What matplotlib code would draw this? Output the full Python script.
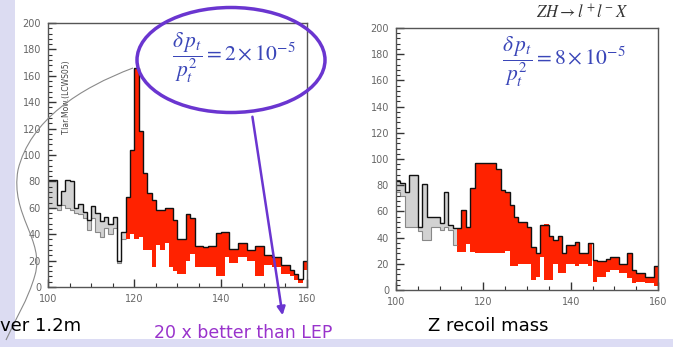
import numpy as np
import matplotlib.pyplot as plt
from matplotlib.patches import Ellipse, Rectangle, PathPatch
from matplotlib.path import Path

# bin edges (GeV), 1 GeV bins from 100 to 160
edges = np.arange(100, 161, 1)

# left panel: upper (total) and lower level of each bin
left_upper = [81, 81, 62, 73, 81, 80, 60, 63, 57, 51,
              61, 56, 50, 53, 48, 53, 20, 42, 68, 104,
              166, 118, 86, 71, 66, 58, 58, 60, 60, 51,
              36, 36, 55, 52, 31, 31, 30, 31, 31, 41,
              42, 42, 29, 29, 33, 33, 28, 28, 31, 31,
              24, 24, 23, 23, 17, 17, 13, 10, 6, 20]
left_lower = [60, 60, 58, 62, 60, 58, 56, 55, 52, 43,
              52, 42, 38, 45, 40, 45, 18, 36, 36, 40,
              36, 38, 28, 28, 15, 32, 28, 33, 15, 12,
              10, 10, 20, 25, 15, 15, 15, 15, 15, 8,
              8, 23, 18, 18, 23, 23, 20, 20, 8, 8,
              17, 17, 15, 15, 10, 10, 8, 5, 3, 13]
left_signal_from = 117.5

# right panel
right_upper = [83, 82, 75, 88, 88, 48, 81, 56, 56, 56,
               51, 75, 50, 47, 47, 61, 48, 78, 97, 97,
               97, 97, 97, 92, 76, 75, 65, 56, 52, 52,
               48, 33, 28, 50, 50, 41, 38, 41, 28, 34,
               34, 37, 28, 28, 36, 23, 22, 22, 24, 25,
               25, 20, 20, 28, 15, 13, 13, 10, 10, 18]
right_lower = [75, 72, 48, 48, 48, 45, 38, 38, 48, 48,
               46, 48, 46, 34, 29, 29, 35, 29, 28, 28,
               28, 28, 28, 28, 28, 30, 18, 18, 20, 20,
               20, 8, 10, 25, 8, 8, 20, 13, 13, 20,
               20, 18, 20, 20, 18, 6, 10, 10, 14, 15,
               15, 13, 13, 9, 5, 6, 6, 5, 5, 3]
right_signal_from = 113.5

y_ticks = np.arange(0, 201, 20)
x_ticks = [100, 120, 140, 160]

W, H = 673, 347
RED = '#ff2200'
GREY = '#d2d2d2'
PURPLE = '#6a35d0'
BLUE = '#3a46b8'


def px_axes(fig, left, top, right, bottom):
    return fig.add_axes([left / W, (H - bottom) / H, (right - left) / W, (bottom - top) / H])


def draw_hist(ax, upper, lower, signal_from):
    upper = np.array(upper)
    lower = np.array(lower)
    colors = [RED if e >= signal_from else GREY for e in edges[:-1]]
    ax.bar(edges[:-1], upper - lower, bottom=lower, width=1, align='edge',
           color=colors, linewidth=0)
    grey_n = int(np.sum(edges[:-1] < signal_from))
    ax.stairs(lower[:grey_n], edges[:grey_n + 1], color='#888888', lw=0.8, baseline=None)
    ax.stairs(upper, edges, color='#111111', lw=1.0, baseline=None)
    ax.set_xlim(100, 160)
    ax.set_ylim(0, 200)
    ax.set_xticks(x_ticks)
    ax.set_xticks(np.arange(100, 161, 5), minor=True)
    ax.set_yticks(y_ticks)
    ax.set_yticks(np.arange(0, 201, 4), minor=True)
    ax.tick_params(which='both', direction='in', top=False, right=False,
                   labelsize=7, labelcolor='#666666', color='#333333')
    ax.tick_params(which='major', length=6, width=1, pad=5)
    ax.tick_params(which='minor', length=3, width=0.8)
    for s in ax.spines.values():
        s.set_color('#555555')
        s.set_linewidth(1)


plt.rcParams['mathtext.fontset'] = 'stix'

fig = plt.figure(figsize=(W / 100, H / 100), dpi=100)
fig.patch.set_facecolor('white')

ax1 = px_axes(fig, 48, 23, 307, 287)
draw_hist(ax1, left_upper, left_lower, left_signal_from)
ax1.text(0.07, 0.72, 'T.lar.Mow.(LCWS05)', transform=ax1.transAxes, rotation=90,
         fontsize=5.5, color='#444444', ha='center', va='center')

ax2 = px_axes(fig, 396, 28, 658, 290)
draw_hist(ax2, right_upper, right_lower, right_signal_from)

# overlay in pixel coordinates for the slide decorations
ov = fig.add_axes([0, 0, 1, 1], zorder=5)
ov.set_xlim(0, W)
ov.set_ylim(H, 0)
ov.axis('off')
ov.patch.set_alpha(0)

ov.add_patch(Rectangle((0, 0), 15, H, facecolor='#dcdcf2', edgecolor='none'))
ov.add_patch(Rectangle((0, 339), W, 8, facecolor='#dcdcf4', edgecolor='none'))

# grey lens curve
verts = [(133, 68), (80, 88), (30, 120), (18, 170),
         (10, 215), (45, 240), (35, 275),
         (28, 300), (15, 320), (6, 340)]
codes = [Path.MOVETO, Path.CURVE4, Path.CURVE4, Path.CURVE4,
         Path.CURVE4, Path.CURVE4, Path.CURVE4,
         Path.CURVE4, Path.CURVE4, Path.CURVE4]
ov.add_patch(PathPatch(Path(verts, codes), facecolor='none', edgecolor='#8a8a8a', lw=0.8))

ov.add_patch(Ellipse((231, 60), 188, 105, facecolor='none', edgecolor=PURPLE, lw=2.5))
ov.annotate('', xy=(283, 318), xytext=(252, 114),
            arrowprops=dict(arrowstyle='-|>', color=PURPLE, lw=1.8, mutation_scale=12))

ov.text(234, 58, r'$\dfrac{\delta\, p_t}{p_t^2} = 2\times10^{-5}$', color=BLUE,
        fontsize=15.5, ha='center', va='center')
ov.text(564, 62, r'$\dfrac{\delta\, p_t}{p_t^2} = 8\times10^{-5}$', color=BLUE,
        fontsize=15.5, ha='center', va='center')
ov.text(582, 13, r'$ZH \rightarrow l^+l^-X$', color='#333333', fontsize=12,
        ha='center', va='center')

ov.text(0, 326, 'ver 1.2m', fontsize=13, color='black', ha='left', va='center')
ov.text(243, 333, '20 x better than LEP', fontsize=12.5, color='#9933cc',
        ha='center', va='center')
ov.text(488, 326, 'Z recoil mass', fontsize=13, color='black', ha='center', va='center')

fig.savefig('out.png', dpi=100)
